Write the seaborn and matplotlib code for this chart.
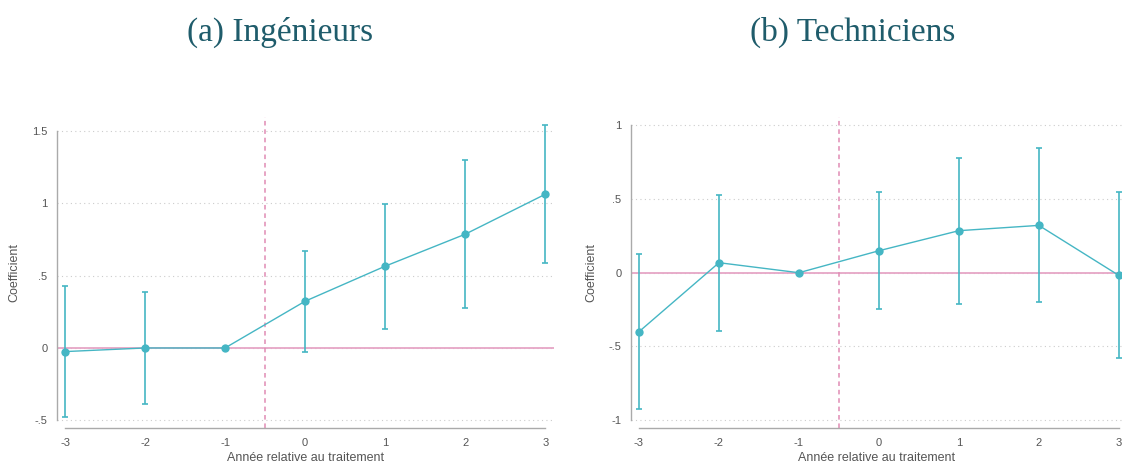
import matplotlib
matplotlib.use("Agg")
import matplotlib.pyplot as plt
import seaborn as sns
import pandas as pd

# ---- data ----
years = [-3, -2, -1, 0, 1, 2, 3]

ing_coef = [-0.025, 0.0, 0.0, 0.323, 0.565, 0.786, 1.062]
ing_low = [-0.48, -0.385, 0.0, -0.03, 0.133, 0.274, 0.587]
ing_high = [0.43, 0.39, 0.0, 0.672, 0.993, 1.30, 1.54]

tec_coef = [-0.40, 0.068, 0.0, 0.149, 0.285, 0.321, -0.018]
tec_low = [-0.924, -0.393, 0.0, -0.248, -0.21, -0.20, -0.58]
tec_high = [0.125, 0.527, 0.0, 0.545, 0.78, 0.847, 0.547]

ing_yticks = [-0.5, 0, 0.5, 1, 1.5]
ing_ylabels = ["-.5", "0", ".5", "1", "1.5"]
tec_yticks = [-1, -0.5, 0, 0.5, 1]
tec_ylabels = ["-1", "-.5", "0", ".5", "1"]

titles = ["(a) Ingénieurs", "(b) Techniciens"]
xlabel = "Année relative au traitement"
ylabel = "Coefficient"

sns.set_theme(style="white")
plt.rcParams['font.family'] = ['Liberation Sans', 'DejaVu Sans']

TEAL = "#45b6c4"
PINK = "#e08cb4"
PINK_LINE = "#e6a6c6"
GREY = "#555555"

fig = plt.figure(figsize=(11.22, 4.63), dpi=100)
W, H = 1122, 463

def axes_px(l, r, t, b):
    return fig.add_axes([l / W, 1 - b / H, (r - l) / W, (b - t) / H])

ax1 = axes_px(57, 554, 117, 428)
ax2 = axes_px(631, 1122, 117, 428)

panels = [
    (ax1, ing_coef, ing_low, ing_high, ing_yticks, ing_ylabels, (-0.553, 1.596), (-3.1, 3.11)),
    (ax2, tec_coef, tec_low, tec_high, tec_yticks, tec_ylabels, (-1.053, 1.056), (-3.1, 3.04)),
]

for ax, coef, low, high, yt, yl, ylim, xlim in panels:
    df = pd.DataFrame({"x": years, "y": coef})
    for v in yt:
        ax.axhline(v, color="#cccccc", lw=0.8, ls=(0, (1, 3)), zorder=0)
    ax.axhline(0, color=PINK_LINE, lw=1.3, zorder=1)
    ax.axvline(-0.5, color=PINK, lw=1.1, ls=(0, (3, 2.5)), zorder=1)
    yerr = [[c - l for c, l in zip(coef, low)], [h - c for c, h in zip(coef, high)]]
    ax.errorbar(years, coef, yerr=yerr, fmt="none", ecolor=TEAL, elinewidth=1.2,
                capsize=2.3, capthick=1.2, zorder=2)
    sns.lineplot(data=df, x="x", y="y", ax=ax, color=TEAL, lw=1.0, marker="o",
                 markersize=6, markeredgewidth=0, zorder=3)
    ax.set_xlim(*xlim)
    ax.set_ylim(*ylim)
    ax.set_xticks(years)
    ax.set_xticklabels([str(v) for v in years])
    ax.set_yticks(yt)
    ax.set_yticklabels(yl)
    ax.tick_params(axis="both", labelsize=8, colors="#999999", length=4, width=0.8,
                   direction="out", pad=3)
    ax.tick_params(axis="both", labelcolor="#555555")
    for s in ["top", "right"]:
        ax.spines[s].set_visible(False)
    ax.spines["left"].set_bounds(yt[0], yt[-1])
    ax.spines["bottom"].set_bounds(years[0], years[-1])
    ax.spines["left"].set_color("#aaaaaa")
    ax.spines["bottom"].set_color("#aaaaaa")
    ax.spines["left"].set_linewidth(1.0)
    ax.spines["bottom"].set_linewidth(1.0)
    ax.set_xlabel(xlabel, fontsize=9, color="#555555", labelpad=3)
    ax.set_ylabel(ylabel, fontsize=9, color="#555555", labelpad=8)
    ax.grid(False)

fig.text(280 / W, 1 - 32 / H, titles[0], ha="center", va="center", fontsize=24,
         color="#1f5c6b", family=["Liberation Serif", "DejaVu Serif"])
fig.text(853 / W, 1 - 32 / H, titles[1], ha="center", va="center", fontsize=24,
         color="#1f5c6b", family=["Liberation Serif", "DejaVu Serif"])

fig.savefig("out.png", dpi=100)
